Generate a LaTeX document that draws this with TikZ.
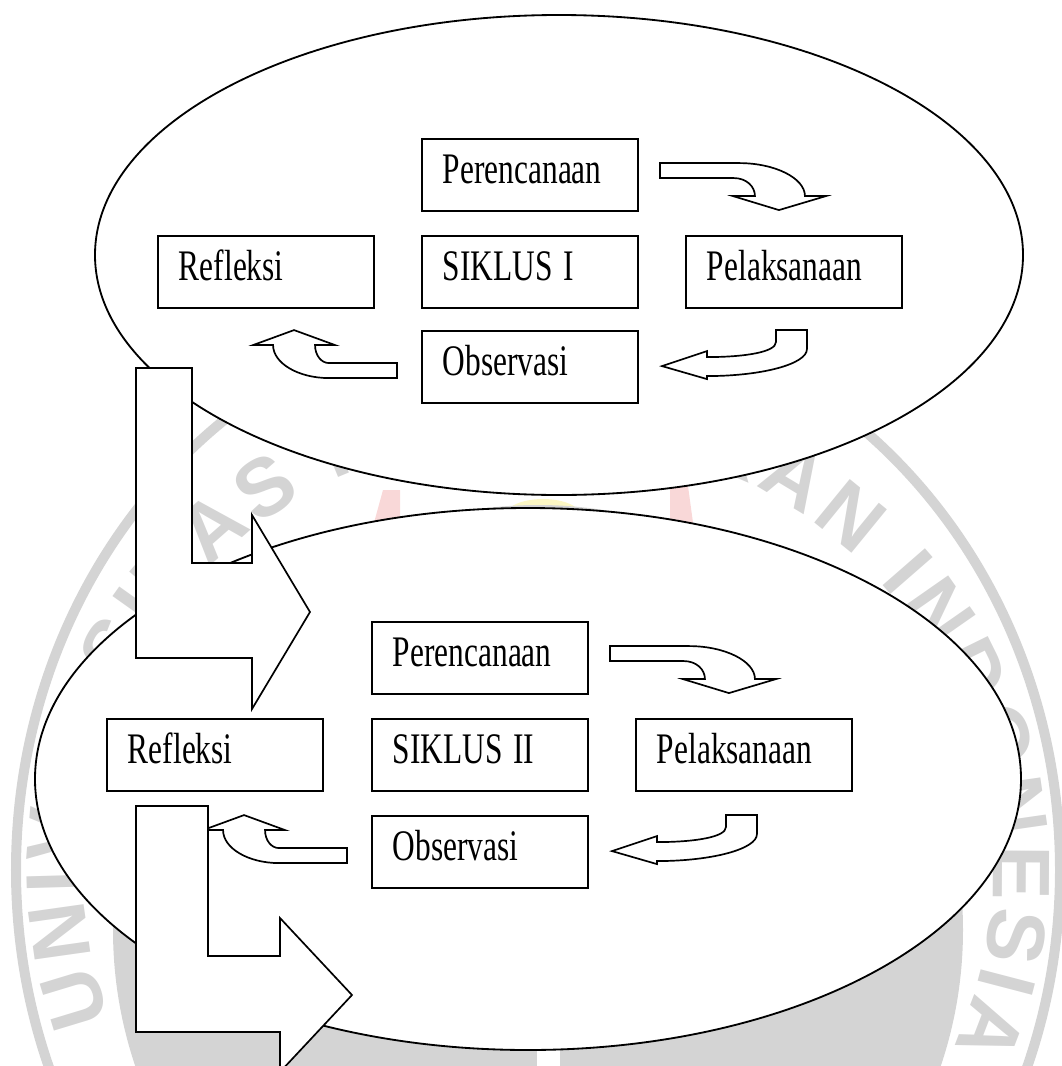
\documentclass[tikz,border=0pt]{standalone}
\usepackage{fontspec}
\setmainfont{Liberation Serif}
\newfontfamily\wmfont{Liberation Sans}
\usepackage{tikz}
\usetikzlibrary{decorations.text}

\newcommand{\sqz}[1]{\scalebox{0.72}[1]{#1}}
\definecolor{wmgrey}{RGB}{212,212,212}
\definecolor{wmpink}{RGB}{249,216,216}
\definecolor{wmyellow}{RGB}{252,247,196}

\tikzset{
  stage/.style={draw, line width=1.3pt, fill=white, rectangle,
    minimum width=5.4cm, inner xsep=0.525cm, inner ysep=0pt,
    text width=4.35cm, align=left, text height=1.1cm, text depth=0.7cm,
    font=\fontsize{31}{36}\selectfont},
  cyc/.style={draw, line width=1.3pt, fill=white},
  blockarrow/.style={draw, line width=1.2pt, fill=white, line join=miter},
  pics/turndown/.style={code={
    \draw[blockarrow] (21,25) -- (100,25) .. controls (136,25) and (166,40) .. (166,58)
      -- (187,58) -- (140,72) -- (94,58) -- (116,58)
      .. controls (116,48) and (107,40) .. (95,40) -- (21,40) -- cycle;
  }},
  pics/turnleft/.style={code={
    \draw[blockarrow] (137,0) -- (168,0) -- (168,19) .. controls (168,34) and (123,46) .. (68,46)
      -- (68,49) -- (23,36) -- (68,21) -- (68,27)
      .. controls (106,27) and (137,22) .. (137,12) -- cycle;
  }},
  pics/turnup/.style={code={
    \draw[blockarrow] (-127,0) -- (-86,15) -- (-106,15)
      .. controls (-106,25) and (-100,33) .. (-92,33) -- (-24,33) -- (-24,48) -- (-92,48)
      .. controls (-123,48) and (-148,33) .. (-148,15) -- (-168,15) -- cycle;
  }}
}

\begin{document}
\begin{tikzpicture}[x=0.025cm,y=-0.025cm]
\useasboundingbox (0,0) rectangle (1062,1066);

%% watermark behind everything
\fill[wmpink] (372,530) -- (383,490) -- (400,490) -- (400,530) -- cycle;
\fill[wmpink] (670,530) -- (670,486) -- (688,486) -- (694,530) -- cycle;
\fill[wmyellow] (543,516) ellipse [x radius=38, y radius=17];
\fill[wmgrey] (538,930) circle [radius=425];
\fill[white] (537,790) rectangle (560,1066);
\begin{scope}[shift={(538,870)}, y=0.025cm]
  \draw[wmgrey, line width=0.25cm] (0,0) ellipse [x radius=522, y radius=563];
  \path[decorate, decoration={text along path, text color=wmgrey, text align={fit to path},
      text={|\wmfont\bfseries\fontsize{58}{58}\selectfont|UNIVERSITAS PENDIDIKAN INDONESIA}}]
    (200:455 and 436) arc [start angle=200, end angle=-24, x radius=455, y radius=436];
\end{scope}

%% the two cycles
\draw[cyc] (559,255) ellipse [x radius=464, y radius=240];
\draw[cyc] (528,779) ellipse [x radius=493, y radius=271];

%% siklus I
\node[stage] (p1) at (530,175) {\sqz{Perencanaan}};
\node[stage] (r1) at (266,272) {\sqz{Refleksi}};
\node[stage] (s1) at (530,272) {\sqz{SIKLUS I}};
\node[stage] (l1) at (794,272) {\sqz{Pelaksanaan}};
\node[stage] (o1) at (530,367) {\sqz{Observasi}};

\pic at (p1.north east) {turndown};
\pic at (o1.north east) {turnleft};
\pic at (o1.north west) {turnup};

%% siklus II
\node[stage] (p2) at (480,658) {\sqz{Perencanaan}};
\node[stage] (r2) at (215,755) {\sqz{Refleksi}};
\node[stage] (s2) at (480,755) {\sqz{SIKLUS II}};
\node[stage] (l2) at (744,755) {\sqz{Pelaksanaan}};
\node[stage] (o2) at (480,852) {\sqz{Observasi}};

\pic at (p2.north east) {turndown};
\pic at (o2.north east) {turnleft};
\pic at (o2.north west) {turnup};

%% big arrows between the cycles
\draw[blockarrow] (136,368) -- (192,368) -- (192,563) -- (252,563) -- (252,515)
  -- (310,612) -- (252,709) -- (252,658) -- (136,658) -- cycle;
\draw[blockarrow] (136,806) -- (208,806) -- (208,956) -- (280,956) -- (280,918)
  -- (352,995) -- (280,1072) -- (280,1032) -- (136,1032) -- cycle;

\end{tikzpicture}
\end{document}
